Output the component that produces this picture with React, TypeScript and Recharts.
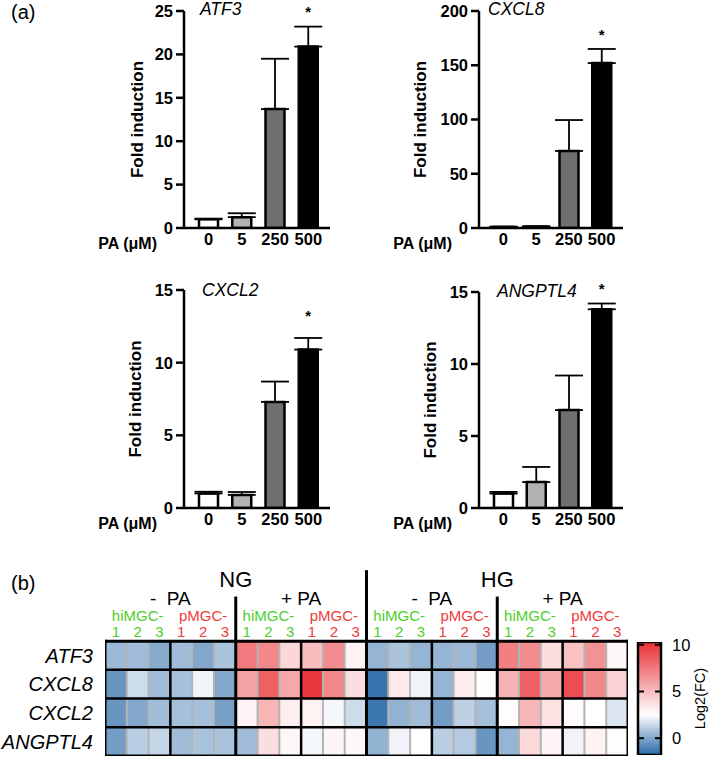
import React from 'react';
import {
  BarChart, Bar, XAxis, YAxis, ErrorBar, Cell, LabelList, Label,
  ScatterChart, Scatter,
} from 'recharts';

const FONT = '"Liberation Sans", Arial, Helvetica, sans-serif';

// ---------- (a) bar charts ----------
const doses = ['0', '5', '250', '500'];
const barFills = ['#ffffff', '#b2b2b2', '#6f6f6f', '#000000'];
const starFlags = ['', '', '', '*'];

const atf3Mean = [1.0, 1.25, 13.7, 20.9];
const atf3Err = [0.08, 0.45, 5.8, 2.3];
const atf3Ticks = [0, 5, 10, 15, 20, 25];

const cxcl8Mean = [1.0, 1.3, 71, 152];
const cxcl8Err = [0.3, 0.3, 28.5, 13];
const cxcl8Ticks = [0, 50, 100, 150, 200];

const cxcl2Mean = [1.0, 0.9, 7.3, 10.9];
const cxcl2Err = [0.12, 0.2, 1.4, 0.8];
const cxcl2Ticks = [0, 5, 10, 15];

const angptl4Mean = [1.0, 1.8, 6.8, 13.8];
const angptl4Err = [0.12, 1.05, 2.4, 0.4];
const angptl4Ticks = [0, 5, 10, 15];

// ---------- (b) heatmap ----------
const genes = ['ATF3', 'CXCL8', 'CXCL2', 'ANGPTL4'];
const conditions = ['NG', 'HG'];
const paLabels = ['-  PA', '+ PA'];
const cellLines = ['hiMGC-', 'pMGC-'];
const replicates = ['1', '2', '3'];

const atf3Fc = [0.5, 0.6, 0.1, 0.6, 0.0, 0.8, 7.5, 7.0, 4.0, 5.0, 6.8, 3.0, 0.4, 0.8, 0.4, 0.4, 0.5, -0.3, 7.3, 6.8, 3.8, 4.8, 6.6, 2.8];
const cxcl8Fc = [-0.5, 1.5, 0.6, 0.7, 2.2, 0.0, 6.0, 8.5, 5.8, 10.0, 7.0, 3.7, -1.5, 3.3, 2.2, 0.4, 3.2, 2.6, 5.4, 8.5, 5.7, 9.2, 7.0, 4.2];
const cxcl2Fc = [-0.5, 0.0, 0.6, 0.7, 0.7, -0.2, 2.9, 5.3, 3.1, 3.0, 2.3, 1.5, -1.4, 0.3, 0.6, -0.3, 1.2, 0.7, 2.6, 5.2, 3.6, 2.6, 2.5, 1.8];
const angptl4Fc = [-0.3, 1.1, 1.3, 0.6, 0.8, 0.8, 0.6, 3.7, 2.8, 2.3, 2.9, 2.8, 0.3, 2.2, 2.5, 1.1, 1.0, -0.5, 0.4, 3.9, 2.9, 2.2, 3.0, 2.6];
const fcRows = [atf3Fc, cxcl8Fc, cxcl2Fc, angptl4Fc];

const cbTicks = [0, 5, 10];
const CB_MIN = -1.8;
const CB_MID = 2.5;
const CB_MAX = 10.3;

const BLUE = [40, 104, 166];
const RED = [232, 48, 52];
function mix(a: number[], t: number) {
  const c = a.map((v) => Math.round(255 + (v - 255) * t));
  return `rgb(${c[0]},${c[1]},${c[2]})`;
}
function heatColor(v: number) {
  if (v >= CB_MID) return mix(RED, Math.min(1, (v - CB_MID) / (CB_MAX - CB_MID)));
  return mix(BLUE, Math.min(1, (CB_MID - v) / (CB_MID - CB_MIN)));
}

const GREEN_TXT = '#4ccf2a';
const RED_TXT = '#ef3a3a';

// ---------- bar chart component ----------
type Cfg = {
  left: number; top: number; width: number; height: number;
  plotLeft: number; plotRight: number; plotTop: number; plotBottom: number;
  yw: number; max: number; ticks: number[]; mean: number[]; err: number[];
  labelDx: number; starGap: number;
};

const tickStyle = { fill: '#000', fontSize: 16.5, fontWeight: 'bold', fontFamily: FONT };

function GeneChart({ cfg }: { cfg: Cfg }) {
  const data = doses.map((d, i) => ({
    dose: d, mean: cfg.mean[i], err: [0, cfg.err[i]], star: starFlags[i],
  }));
  const xh = 30;
  return (
    <div style={{ position: 'absolute', left: cfg.left, top: cfg.top }}>
      <BarChart
        width={cfg.width}
        height={cfg.height}
        data={data}
        barSize={19}
        margin={{
          top: cfg.plotTop,
          right: cfg.width - cfg.plotRight,
          left: cfg.plotLeft - cfg.yw,
          bottom: cfg.height - cfg.plotBottom - xh,
        }}
      >
        <XAxis
          dataKey="dose"
          height={xh}
          interval={0}
          axisLine={{ stroke: '#000', strokeWidth: 2.5 }}
          tickLine={false}
          tickSize={0}
          tickMargin={5}
          tick={tickStyle}
          padding={{ left: 8, right: 5 }}
        >
          <Label
            value="PA (μM)"
            position="left"
            offset={27}
            style={{ fill: '#000', fontSize: 16, fontWeight: 'bold', fontFamily: FONT }}
          />
        </XAxis>
        <YAxis
          width={cfg.yw}
          domain={[0, cfg.max]}
          ticks={cfg.ticks}
          interval={0}
          allowDataOverflow
          axisLine={{ stroke: '#000', strokeWidth: 2.5 }}
          tickLine={{ stroke: '#000', strokeWidth: 2.5 }}
          tickSize={8}
          tickMargin={3}
          tick={tickStyle}
        >
          <Label
            content={(p: any) => {
              const vb = p.viewBox || {};
              const x = vb.x + vb.width - cfg.labelDx;
              const y = vb.y + vb.height / 2;
              return (
                <text
                  x={x}
                  y={y}
                  transform={`rotate(-90 ${x} ${y})`}
                  textAnchor="middle"
                  dominantBaseline="central"
                  style={{ fill: '#000', fontSize: 17, fontWeight: 'bold', fontFamily: FONT }}
                >
                  Fold induction
                </text>
              );
            }}
          />
        </YAxis>
        <Bar dataKey="mean" isAnimationActive={false} stroke="#000" strokeWidth={2.5}>
          {data.map((d, i) => (
            <Cell key={i} fill={barFills[i]} />
          ))}
          <ErrorBar dataKey="err" width={14} stroke="#000" strokeWidth={1.8} direction="y" />
          <LabelList
            dataKey="star"
            content={(p: any) => {
              const i = p.index;
              if (i == null || !data[i] || !data[i].star) return null;
              const m = data[i].mean;
              const ppu = Number(p.height) / m;
              const cy = Number(p.y) - data[i].err[1] * ppu - cfg.starGap;
              return (
                <text
                  x={Number(p.x) + Number(p.width) / 2}
                  y={cy}
                  textAnchor="middle"
                  dominantBaseline="central"
                  style={{ fill: '#000', fontSize: 15, fontWeight: 'bold', fontFamily: FONT }}
                >
                  {data[i].star}
                </text>
              );
            }}
          />
        </Bar>
      </BarChart>
    </div>
  );
}

const charts: Cfg[] = [
  { left: 0, top: 0, width: 360, height: 262, plotLeft: 184, plotRight: 330, plotTop: 11, plotBottom: 228, yw: 40, max: 25, ticks: atf3Ticks, mean: atf3Mean, err: atf3Err, labelDx: 47, starGap: 15 },
  { left: 340, top: 0, width: 360, height: 262, plotLeft: 139, plotRight: 283, plotTop: 11, plotBottom: 228, yw: 50, max: 200, ticks: cxcl8Ticks, mean: cxcl8Mean, err: cxcl8Err, labelDx: 59, starGap: 14 },
  { left: 0, top: 270, width: 360, height: 270, plotLeft: 184, plotRight: 330, plotTop: 20, plotBottom: 238, yw: 40, max: 15, ticks: cxcl2Ticks, mean: cxcl2Mean, err: cxcl2Err, labelDx: 49, starGap: 22 },
  { left: 340, top: 270, width: 360, height: 270, plotLeft: 139, plotRight: 283, plotTop: 22, plotBottom: 238, yw: 50, max: 15, ticks: angptl4Ticks, mean: angptl4Mean, err: angptl4Err, labelDx: 49, starGap: 15 },
];

// ---------- heatmap ----------
const HM_W = 709;
const HM_H = 219;
const HM_TOP = 540;
const HM_LEFT = 105;
const HM_RIGHT = 628;
const HM_PLOT_TOP = 15;
const HM_PLOT_BOTTOM = 3;
const Y_MIN = -3;
const Y_MAX = 4;
const cellW = (HM_RIGHT - HM_LEFT) / 24;
const cellH = (HM_H - HM_PLOT_TOP - HM_PLOT_BOTTOM) / (Y_MAX - Y_MIN);

const cellData: { x: number; y: number; v: number }[] = [];
fcRows.forEach((row, r) => row.forEach((v, c) => cellData.push({ x: c + 0.5, y: r + 0.5, v })));

const headerData: { x: number; y: number; t: string; c: string; s: number }[] = [];
for (let g = 0; g < 4; g++) {
  for (let l = 0; l < 2; l++) {
    const col0 = g * 6 + l * 3;
    const color = l === 0 ? GREEN_TXT : RED_TXT;
    headerData.push({ x: col0 + 1.5, y: -0.91, t: cellLines[l], c: color, s: 15 });
    replicates.forEach((rep, k) => headerData.push({ x: col0 + k + 0.5, y: -0.32, t: rep, c: color, s: 15 }));
  }
  headerData.push({ x: g * 6 + 3, y: -1.5, t: paLabels[g % 2], c: '#000', s: 19 });
}
conditions.forEach((cnd, i) => headerData.push({ x: i * 12 + 6, y: -2.16, t: cnd, c: '#000', s: 22 }));

// grid lines of the heatmap, in data units (midpoint + length)
type GridLine = { x: number; y: number; len: number; o: 'v' | 'h'; w: number; c: string };
const gridLines: GridLine[] = [];
for (let i = 1; i < 24; i++) {
  if (i % 3 !== 0) gridLines.push({ x: i, y: 2, len: 4, o: 'v', w: 2, c: '#b4b4b4' });
}
[3, 9, 15, 21].forEach((i) => gridLines.push({ x: i, y: 2, len: 4, o: 'v', w: 2.5, c: '#000' }));
[1, 2, 3].forEach((j) => gridLines.push({ x: 12, y: j, len: 24, o: 'h', w: 2.5, c: '#000' }));
[6, 18].forEach((i) => gridLines.push({ x: i, y: (4 - 1.5) / 2, len: 5.5, o: 'v', w: 3, c: '#000' }));
gridLines.push({ x: 12, y: (4 - 2.42) / 2, len: 6.42, o: 'v', w: 3, c: '#000' });
// outer border
gridLines.push({ x: 0, y: 2, len: 4, o: 'v', w: 3, c: '#000' });
gridLines.push({ x: 24, y: 2, len: 4, o: 'v', w: 3, c: '#000' });
gridLines.push({ x: 12, y: 0, len: 24, o: 'h', w: 3, c: '#000' });
gridLines.push({ x: 12, y: 4, len: 24, o: 'h', w: 3, c: '#000' });

function CellShape(p: any) {
  return (
    <rect
      x={p.cx - cellW / 2}
      y={p.cy - cellH / 2}
      width={cellW}
      height={cellH}
      fill={heatColor(p.payload.v)}
    />
  );
}
function LineShape(p: any) {
  const d: GridLine = p.payload;
  if (d.o === 'v') {
    const h = (d.len * cellH) / 2;
    return <line x1={p.cx} x2={p.cx} y1={p.cy - h} y2={p.cy + h} stroke={d.c} strokeWidth={d.w} strokeLinecap="square" />;
  }
  const w = (d.len * cellW) / 2;
  return <line x1={p.cx - w} x2={p.cx + w} y1={p.cy} y2={p.cy} stroke={d.c} strokeWidth={d.w} strokeLinecap="square" />;
}
function HeaderShape(p: any) {
  const d = p.payload;
  return (
    <text
      x={p.cx}
      y={p.cy}
      textAnchor="middle"
      dominantBaseline="central"
      style={{ fill: d.c, fontSize: d.s, fontFamily: FONT, whiteSpace: 'pre' }}
    >
      {d.t}
    </text>
  );
}

function Heatmap() {
  return (
    <div style={{ position: 'absolute', left: 0, top: HM_TOP }}>
      <ScatterChart
        width={HM_W}
        height={HM_H}
        margin={{ top: HM_PLOT_TOP, right: HM_W - HM_RIGHT, left: 0, bottom: HM_PLOT_BOTTOM }}
      >
        <XAxis dataKey="x" type="number" domain={[0, 24]} hide allowDataOverflow />
        <YAxis
          dataKey="y"
          type="number"
          domain={[Y_MIN, Y_MAX]}
          reversed
          allowDataOverflow
          width={HM_LEFT}
          ticks={[0.5, 1.5, 2.5, 3.5]}
          interval={0}
          tickFormatter={(v: number) => genes[Math.floor(v)]}
          axisLine={false}
          tickLine={false}
          tickSize={0}
          tickMargin={12}
          tick={{ fill: '#000', fontSize: 20, fontStyle: 'italic', fontFamily: FONT }}
        />
        <Scatter data={cellData} isAnimationActive={false} shape={CellShape} />
        <Scatter data={gridLines} isAnimationActive={false} shape={LineShape} />
        <Scatter data={headerData} isAnimationActive={false} shape={HeaderShape} />
      </ScatterChart>
    </div>
  );
}

// ---------- colour bar ----------
const cbData = [{ k: 'scale', range: [CB_MIN, CB_MAX] }];
const CB_LEFT = 600;
const CB_TOP = 630;
const CB_W = 109;
const CB_H = 129;
const CB_PL = 38;
const CB_YW = 48;

function ColorBar() {
  const barL = CB_PL;
  const barR = CB_W - CB_YW;
  const whiteOff = (CB_MAX - CB_MID) / (CB_MAX - CB_MIN);
  return (
    <div style={{ position: 'absolute', left: CB_LEFT, top: CB_TOP }}>
      <BarChart
        width={CB_W}
        height={CB_H}
        data={cbData}
        barCategoryGap={0}
        margin={{ top: 12, right: 0, left: CB_PL, bottom: 4 }}
      >
        <XAxis dataKey="k" hide />
        <YAxis
          orientation="right"
          width={CB_YW}
          domain={[CB_MIN, CB_MAX]}
          allowDataOverflow
          ticks={cbTicks}
          interval={0}
          axisLine={false}
          tickLine={false}
          tickSize={0}
          tickMargin={11}
          tick={(p: any) => (
            <g>
              <line x1={barL} x2={barL + 6} y1={p.y} y2={p.y} stroke="#000" strokeWidth={2} />
              <line x1={barR - 6} x2={barR} y1={p.y} y2={p.y} stroke="#000" strokeWidth={2} />
              <text
                x={p.x}
                y={p.y}
                textAnchor="start"
                dominantBaseline="central"
                style={{ fill: '#000', fontSize: 16.5, fontFamily: FONT }}
              >
                {p.payload.value}
              </text>
            </g>
          )}
        >
          <Label
            content={(p: any) => {
              const vb = p.viewBox || {};
              const x = vb.x + 39;
              const y = vb.y + vb.height / 2;
              return (
                <text
                  x={x}
                  y={y}
                  transform={`rotate(-90 ${x} ${y})`}
                  textAnchor="middle"
                  dominantBaseline="central"
                  style={{ fill: '#000', fontSize: 14.5, fontFamily: FONT }}
                >
                  Log2(FC)
                </text>
              );
            }}
          />
        </YAxis>
        <Bar
          dataKey="range"
          isAnimationActive={false}
          shape={(p: any) => (
            <g>
              <defs>
                <linearGradient id="cbGrad" x1="0" y1="0" x2="0" y2="1">
                  <stop offset="0" stopColor={heatColor(CB_MAX)} />
                  <stop offset={whiteOff} stopColor="#ffffff" />
                  <stop offset="1" stopColor={heatColor(CB_MIN)} />
                </linearGradient>
              </defs>
              <rect x={p.x} y={p.y} width={p.width} height={p.height} fill="url(#cbGrad)" stroke="#000" strokeWidth={2.5} />
            </g>
          )}
        />
      </BarChart>
    </div>
  );
}

// ---------- titles ----------
const titles = [
  { t: 'ATF3', x: 200, y: 9 },
  { t: 'CXCL8', x: 488, y: 9 },
  { t: 'CXCL2', x: 202, y: 290 },
  { t: 'ANGPTL4', x: 497, y: 291 },
];

export default function App() {
  return (
    <div style={{ position: 'absolute', left: 0, top: 0, width: 709, height: 759, background: '#fff', fontFamily: FONT }}>
      {charts.map((c, i) => (
        <GeneChart key={i} cfg={c} />
      ))}
      <Heatmap />
      <ColorBar />
      <svg width={709} height={759} style={{ position: 'absolute', left: 0, top: 0, pointerEvents: 'none' }}>
        {titles.map((t) => (
          <text key={t.t} x={t.x} y={t.y} dominantBaseline="central" style={{ fill: '#000', fontSize: 17.5, fontStyle: 'italic', fontFamily: FONT }}>
            {t.t}
          </text>
        ))}
        <text x={11} y={12} dominantBaseline="central" style={{ fill: '#000', fontSize: 20, fontFamily: FONT }}>(a)</text>
        <text x={11} y={583} dominantBaseline="central" style={{ fill: '#000', fontSize: 20, fontFamily: FONT }}>(b)</text>
      </svg>
    </div>
  );
}
